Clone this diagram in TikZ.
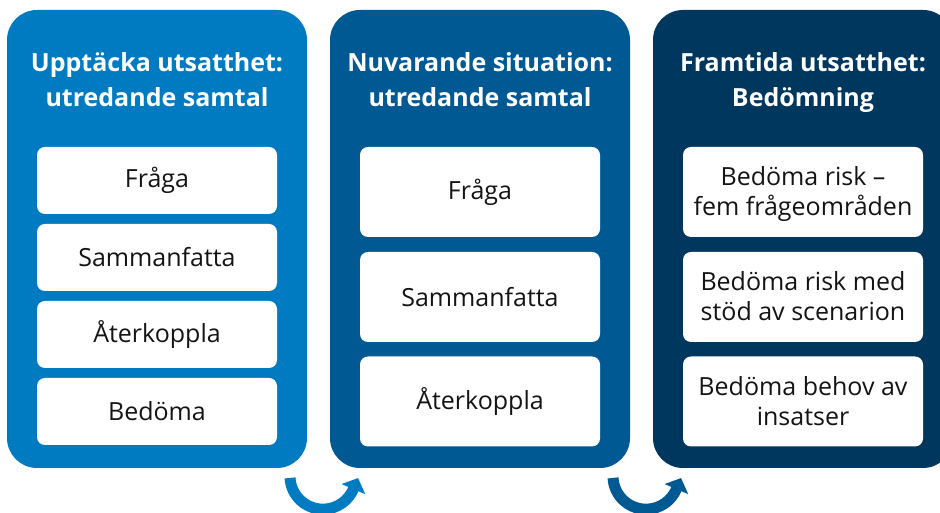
\documentclass[tikz,border=0pt]{standalone}
\usepackage{fontspec}
\setmainfont{Open Sans}
\usetikzlibrary{arrows.meta,calc}
\definecolor{cA}{RGB}{0,123,193}
\definecolor{cB}{RGB}{0,89,146}
\definecolor{cC}{RGB}{0,55,94}
\definecolor{txt}{RGB}{20,20,20}
\newcommand{\topstrut}{\rule{0pt}{27pt}}
\begin{document}
\begin{tikzpicture}[x=1pt,y=1pt,
  panel/.style={rounded corners=30pt, minimum width=300pt, minimum height=458pt, inner sep=0pt},
  ptitle/.style={text=white, font=\fontsize{25}{35}\selectfont\bfseries, align=center},
  item/.style={fill=white, rounded corners=8pt, minimum width=240pt, inner sep=0pt, text=txt, font=\fontsize{25}{30}\selectfont, align=center},
  itemS/.style={item, minimum height=67pt},
  itemL/.style={item, minimum height=90pt},
  loop/.style={line width=11pt, -{Triangle[width=25pt,length=12pt]}}
]
\useasboundingbox (0,0) rectangle (940,513);
\clip (0,0) rectangle (940,513);
% panels
\node[panel, fill=cA] (p1) at (157,274) {};
\node[panel, fill=cB] (p2) at (480,274) {};
\node[panel, fill=cC] (p3) at (803,274) {};
% titles
\node[ptitle] (t1) at (157,431) {\strut Upptäcka utsatthet:\\utredande samtal\strut};
\node[ptitle] (t2) at (480,431) {\strut Nuvarande situation:\\utredande samtal\strut};
\node[ptitle] (t3) at (803,431) {\strut Framtida utsatthet:\\Bedömning\strut};
% left items
\node[itemS] (a1) at (157,332.5) {Fråga};
\node[itemS] (a2) at (157,255.5) {Sammanfatta};
\node[itemS] (a3) at (157,178.5) {Återkoppla};
\node[itemS] (a4) at (157,101.5) {Bedöma};
% middle items
\node[itemL] (b1) at (480,321) {Fråga};
\node[itemL] (b2) at (480,216) {Sammanfatta};
\node[itemL] (b3) at (480,111.5) {Återkoppla};
% right items
\node[itemL] (c1) at (803,321) {\topstrut Bedöma risk –\\fem frågeområden\strut};
\node[itemL] (c2) at (803,216) {\topstrut Bedöma risk med\\stöd av scenarion\strut};
\node[itemL] (c3) at (803,111.5) {\topstrut Bedöma behov av\\insatser\strut};
% loop arrows
\coordinate (m1) at ($(p1.south east)!0.5!(p2.south west)+(4.5,-8)$);
\coordinate (m2) at ($(p2.south east)!0.5!(p3.south west)+(4.5,-8)$);
\draw[loop, cA] ($(m1)+(183:33)$) arc[start angle=183, end angle=337, radius=33] -- ++(67:12);
\draw[loop, cB] ($(m2)+(183:33)$) arc[start angle=183, end angle=337, radius=33] -- ++(67:12);
\end{tikzpicture}
\end{document}
